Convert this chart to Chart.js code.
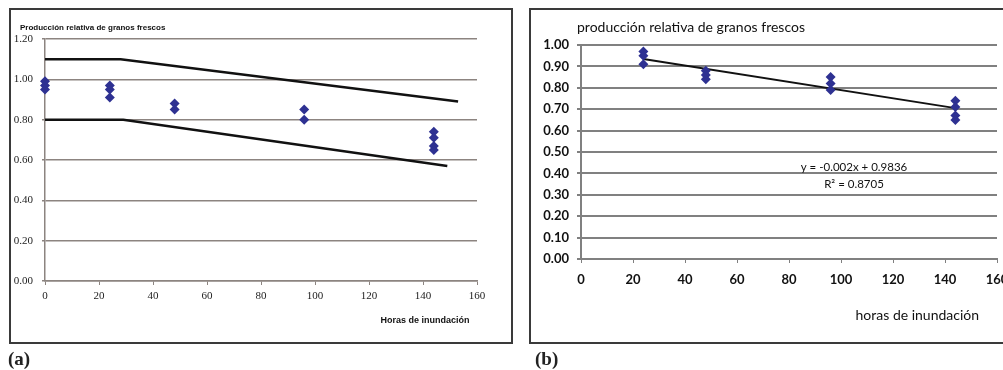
<!DOCTYPE html>
<html>
<head>
<meta charset="utf-8">
<script src="https://cdn.jsdelivr.net/npm/chart.js@4/dist/chart.umd.min.js"></script>
<style>
  body { margin: 0; width: 1003px; height: 370px; overflow: hidden; background: #fff; position: relative; }
  .box { position: absolute; border: 2px solid #3a3a3a; box-sizing: border-box; }
  .panel { position: absolute; top: 0; }
  .tag { position: absolute; top: 348px; font: bold 19px "Liberation Serif", serif; color: #222; }
</style>
</head>
<body>
<div class="box" style="left:9px; top:8px; width:504px; height:336px;"></div>
<div class="box" style="left:529px; top:8px; width:490px; height:336px;"></div>
<canvas id="chartA" class="panel" style="left:0px;" width="505" height="350"></canvas>
<canvas id="chartB" class="panel" style="left:520px;" width="500" height="350"></canvas>
<div class="tag" style="left:8px;">(a)</div>
<div class="tag" style="left:535px;">(b)</div>

<script>
// panel (a): all measured points + envelope lines
const horasA = [0, 0, 0, 24, 24, 24, 48, 48, 96, 96, 144, 144, 144, 144];
const relA = [0.99, 0.97, 0.95, 0.97, 0.95, 0.91, 0.88, 0.85, 0.85, 0.80, 0.74, 0.71, 0.67, 0.65];
const limSupX = [0, 28, 153];
const limSupY = [1.10, 1.10, 0.89];
const limInfX = [0, 29, 149];
const limInfY = [0.80, 0.80, 0.57];

// panel (b): points from 24 h on + linear trend
const horasB = [24, 24, 24, 48, 48, 48, 96, 96, 96, 144, 144, 144, 144];
const relB = [0.97, 0.95, 0.91, 0.88, 0.86, 0.84, 0.85, 0.82, 0.79, 0.74, 0.71, 0.67, 0.65];
const tendX = [24, 144];
const tendY = [0.935, 0.705];
const ecuacion = ['y = -0.002x + 0.9836', 'R² = 0.8705'];
const ecuacionPos = [105, 0.43];

const tituloA = 'Producción relativa de granos frescos';
const tituloB = 'producción relativa de granos frescos';

const azul = '#2e3192';

function pts(xs, ys) {
    return xs.map((x, i) => ({ x: x, y: ys[i] }));
}

// fixes the width of the y axis / height of the x axis so the plot area sits where it should
function fixSize(prop, value) {
    return (scale) => { scale[prop] = value; };
}

// chart title at the top-left corner (the built-in title can't start left of the y labels here)
const tituloPlugin = {
    id: 'titulo',
    afterDraw(chart, args, opts) {
        if (!opts.text) return;
        const ctx = chart.ctx;
        ctx.save();
        ctx.font = opts.font;
        ctx.fillStyle = '#111';
        ctx.textAlign = 'left';
        ctx.textBaseline = 'middle';
        ctx.fillText(opts.text, opts.x, opts.y);
        ctx.restore();
    }
};

const eqPlugin = {
    id: 'ecuacion',
    afterDatasetsDraw(chart, args, opts) {
        if (!opts.show) return;
        const ctx = chart.ctx;
        const x = chart.scales.x.getPixelForValue(ecuacionPos[0]);
        const y = chart.scales.y.getPixelForValue(ecuacionPos[1]);
        ctx.save();
        ctx.font = '11.5px Lato, "Open Sans", sans-serif';
        ctx.fillStyle = '#111';
        ctx.textAlign = 'center';
        ctx.textBaseline = 'middle';
        ctx.fillText(ecuacion[0], x, y);
        ctx.fillText(ecuacion[1], x, y + 17);
        ctx.restore();
    }
};

new Chart(document.getElementById('chartA'), {
    type: 'scatter',
    data: {
        datasets: [{
            data: pts(horasA, relA),
            pointStyle: 'rectRot',
            pointRadius: 5,
            backgroundColor: azul,
            borderColor: azul,
            borderWidth: 0,
            clip: false
        }, {
            type: 'line',
            data: pts(limSupX, limSupY),
            borderColor: '#111',
            borderWidth: 2.5,
            pointRadius: 0,
            tension: 0,
            clip: false
        }, {
            type: 'line',
            data: pts(limInfX, limInfY),
            borderColor: '#111',
            borderWidth: 2.5,
            pointRadius: 0,
            tension: 0,
            clip: false
        }]
    },
    options: {
        responsive: false,
        animation: false,
        devicePixelRatio: 1,
        layout: { padding: { left: 0, right: 28, top: 39, bottom: 0 } },
        plugins: {
            legend: { display: false },
            tooltip: { enabled: false },
            titulo: {
                text: tituloA,
                x: 20,
                y: 28,
                font: 'bold 8px "Liberation Sans", Arial, sans-serif'
            }
        },
        scales: {
            x: {
                type: 'linear',
                min: 0,
                max: 160,
                afterFit: fixSize('height', 69),
                ticks: {
                    stepSize: 20,
                    color: '#222',
                    padding: 5,
                    font: { family: '"Liberation Serif", serif', size: 11 }
                },
                grid: { drawOnChartArea: false, drawTicks: true, tickLength: 4, color: '#8c8480' },
                border: { color: '#8c8480', width: 1.5 },
                title: {
                    display: true,
                    text: 'Horas de inundación\u00a0\u00a0\u00a0',
                    align: 'end',
                    color: '#111',
                    font: { family: '"Liberation Sans", Arial, sans-serif', size: 9, weight: 'bold' },
                    padding: { top: 0, bottom: 23.6 }
                }
            },
            y: {
                min: 0,
                max: 1.2,
                afterFit: fixSize('width', 45),
                ticks: {
                    stepSize: 0.2,
                    color: '#222',
                    padding: 9,
                    font: { family: '"Liberation Serif", serif', size: 11 },
                    callback: (v) => v.toFixed(2)
                },
                grid: { color: '#8c8480', lineWidth: 1.5, tickLength: 3 },
                border: { color: '#8c8480', width: 1.5 }
            }
        }
    },
    plugins: [tituloPlugin]
});

new Chart(document.getElementById('chartB'), {
    type: 'scatter',
    data: {
        datasets: [{
            data: pts(horasB, relB),
            pointStyle: 'rectRot',
            pointRadius: 5,
            backgroundColor: azul,
            borderColor: azul,
            borderWidth: 0,
            clip: false
        }, {
            type: 'line',
            data: pts(tendX, tendY),
            borderColor: '#111',
            borderWidth: 2,
            pointRadius: 0,
            tension: 0,
            clip: false
        }]
    },
    options: {
        responsive: false,
        animation: false,
        devicePixelRatio: 1,
        layout: { padding: { left: 0, right: 23, top: 45, bottom: 0 } },
        plugins: {
            legend: { display: false },
            tooltip: { enabled: false },
            ecuacion: { show: true },
            titulo: {
                text: tituloB,
                x: 57,
                y: 27,
                font: '14px Lato, "Open Sans", sans-serif'
            }
        },
        scales: {
            x: {
                type: 'linear',
                min: 0,
                max: 160,
                afterFit: fixSize('height', 91),
                ticks: {
                    stepSize: 20,
                    color: '#111',
                    padding: 8.6,
                    font: { family: 'Lato, "Open Sans", sans-serif', size: 13, weight: 'bold' }
                },
                grid: { drawOnChartArea: false, drawTicks: true, tickLength: 4, color: '#808080' },
                border: { color: '#808080', width: 2 },
                title: {
                    display: true,
                    text: 'horas de inundación\u00a0\u00a0\u00a0\u00a0\u00a0',
                    align: 'end',
                    color: '#111',
                    font: { family: 'Lato, "Open Sans", sans-serif', size: 14 },
                    padding: { top: 0, bottom: 26.6 }
                }
            },
            y: {
                min: 0,
                max: 1.0,
                afterFit: fixSize('width', 61),
                ticks: {
                    stepSize: 0.1,
                    color: '#111',
                    padding: 8,
                    font: { family: 'Lato, "Open Sans", sans-serif', size: 13, weight: 'bold' },
                    callback: (v) => v.toFixed(2)
                },
                grid: { color: '#808080', lineWidth: 2, tickLength: 4 },
                border: { color: '#808080', width: 2 }
            }
        }
    },
    plugins: [tituloPlugin, eqPlugin]
});
</script>
</body>
</html>
